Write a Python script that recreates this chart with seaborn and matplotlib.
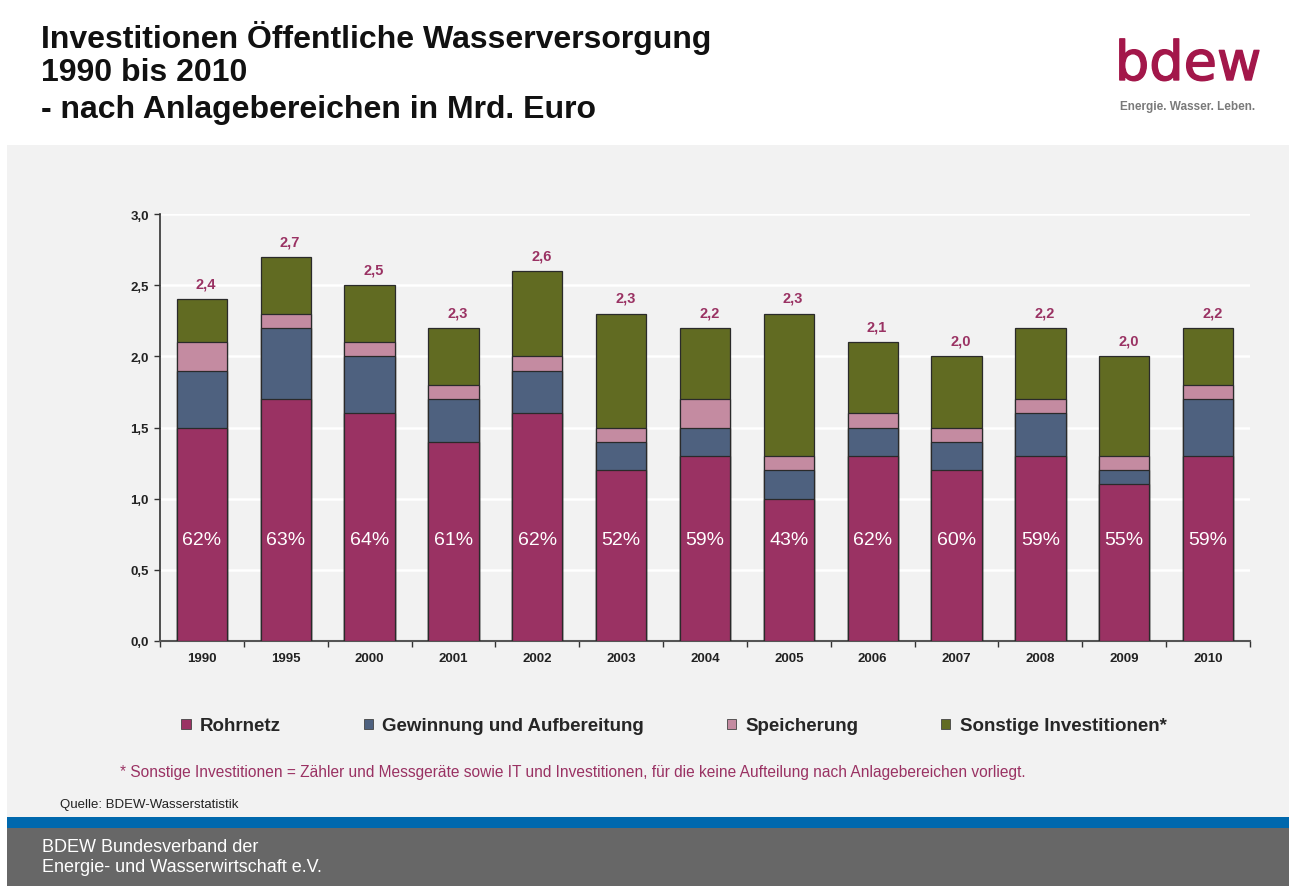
import matplotlib
matplotlib.use("Agg")
import matplotlib.pyplot as plt
import matplotlib.patheffects as pe
from matplotlib.patches import Rectangle, Patch
import seaborn as sns
import numpy as np

# ---------------- data ----------------
years = ["1990", "1995", "2000", "2001", "2002", "2003", "2004",
         "2005", "2006", "2007", "2008", "2009", "2010"]
rohrnetz    = [1.5, 1.7, 1.6, 1.4, 1.6, 1.2, 1.3, 1.0, 1.3, 1.2, 1.3, 1.1, 1.3]
gewinnung   = [0.4, 0.5, 0.4, 0.3, 0.3, 0.2, 0.2, 0.2, 0.2, 0.2, 0.3, 0.1, 0.4]
speicherung = [0.2, 0.1, 0.1, 0.1, 0.1, 0.1, 0.2, 0.1, 0.1, 0.1, 0.1, 0.1, 0.1]
sonstige    = [0.3, 0.4, 0.4, 0.4, 0.6, 0.8, 0.5, 1.0, 0.5, 0.5, 0.5, 0.7, 0.4]
total_labels = [2.4, 2.7, 2.5, 2.3, 2.6, 2.3, 2.2, 2.3, 2.1, 2.0, 2.2, 2.0, 2.2]
share_rohrnetz = [62, 63, 64, 61, 62, 52, 59, 43, 62, 60, 59, 55, 59]
series_names = ["Rohrnetz", "Gewinnung und Aufbereitung", "Speicherung",
                "Sonstige Investitionen*"]
y_ticks = [0.0, 0.5, 1.0, 1.5, 2.0, 2.5, 3.0]

colors = ["#9a3263", "#4e617f", "#c48ba1", "#616b22"]
magenta = "#9a3263"

# ---------------- figure ----------------
sns.set_theme(style="white")
plt.rcParams["font.family"] = ["Liberation Sans", "DejaVu Sans"]

W, H = 1289, 887
fig = plt.figure(figsize=(W / 100, H / 100), dpi=100)
fig.patch.set_facecolor("white")

def fx(px):
    return px / W

def fy(py):
    return 1 - py / H

# background panels
fig.patches.append(Rectangle((fx(7), fy(818)), 1 - fx(7), fy(146) - fy(818),
                             transform=fig.transFigure, facecolor="#f2f2f2",
                             edgecolor="none", zorder=-5))
fig.patches.append(Rectangle((fx(7), fy(829)), 1 - fx(7), fy(818) - fy(829),
                             transform=fig.transFigure, facecolor="#0068ad",
                             edgecolor="none", zorder=-5))
fig.patches.append(Rectangle((fx(7), 0), 1 - fx(7), fy(829),
                             transform=fig.transFigure, facecolor="#676767",
                             edgecolor="none", zorder=-5))

# axes
ax = fig.add_axes([fx(160), fy(642), fx(1250) - fx(160), fy(215) - fy(642)])
ax.set_zorder(5)
ax.set_facecolor("#f2f2f2")

layers = [rohrnetz, gewinnung, speicherung, sonstige]
cum = np.cumsum(np.array(layers), axis=0)

# draw from top layer down (cumulative heights)
for i in range(3, -1, -1):
    sns.barplot(x=years, y=cum[i], order=years, color=colors[i], width=0.6,
                saturation=1, edgecolor="#2a2a2a", linewidth=0.9, ax=ax,
                zorder=3)

ax.set_xlim(-0.5, len(years) - 0.5)
ax.set_ylim(0, 3.0)
ax.set_yticks(y_ticks)
ax.set_yticklabels([f"{v:.1f}".replace(".", ",") for v in y_ticks],
                   fontsize=9.5, fontweight="bold", color="#222222")
ax.set_xticks(range(len(years)))
ax.set_xticklabels(years, fontsize=9.5, fontweight="bold", color="#222222")
ax.set_xlabel("")
ax.set_ylabel("")
ax.tick_params(axis="x", length=0, pad=8)
ax.tick_params(axis="y", length=4, width=1, color="#333333", pad=4,
               direction="out", left=True)
ax.set_xticks(np.arange(-0.5, len(years), 1.0), minor=True)
ax.tick_params(axis="x", which="minor", length=4, width=1, color="#333333",
               direction="out", bottom=True)

ax.yaxis.grid(True, color="white", linewidth=1.8, zorder=0)
ax.set_axisbelow(True)
for side in ["top", "right"]:
    ax.spines[side].set_visible(False)
ax.spines["left"].set_color("#333333")
ax.spines["bottom"].set_color("#555555")
ax.spines["left"].set_linewidth(1.2)
ax.spines["bottom"].set_linewidth(1.5)

# total labels and share labels
tops = cum[3]
for i, (t, lab, sh) in enumerate(zip(tops, total_labels, share_rohrnetz)):
    ax.text(i + 0.05, t + 0.11, f"{lab:.1f}".replace(".", ","), ha="center",
            va="center", fontsize=10.5, fontweight="bold", color=magenta,
            zorder=5)
    ax.text(i, 0.71, f"{sh}%", ha="center", va="center", fontsize=14,
            color="white", zorder=5)

# legend
handles = [Patch(facecolor=c, edgecolor="#444444", linewidth=0.6) for c in colors]
fig.legend(handles, series_names, loc="center", ncol=4,
           bbox_to_anchor=(fx(674), fy(727)), frameon=False,
           prop={"weight": "bold", "size": 13.5}, handlelength=0.5,
           handleheight=0.5, handletextpad=0.5, columnspacing=4.4)

# titles
title_kw = dict(fontsize=23, fontweight="bold", color="#111111", va="center",
                ha="left")
fig.text(fx(41), fy(38), "Investitionen Öffentliche Wasserversorgung", **title_kw)
fig.text(fx(41), fy(73), "1990 bis 2010", **title_kw)
fig.text(fx(41), fy(110), "- nach Anlagebereichen in Mrd. Euro", **title_kw)

# logo
fig.text(fx(1188), fy(66), "bdew", fontsize=39, color="#a3174a",
         family=["DejaVu Sans"], va="center", ha="center",
         path_effects=[pe.withStroke(linewidth=1.0, foreground="#a3174a")])
fig.text(fx(1188), fy(107), "Energie. Wasser. Leben.", fontsize=8.5,
         fontweight="bold", color="#7a7a7a", va="center", ha="center")

# footnote / source / footer
fig.text(fx(120), fy(773),
         "* Sonstige Investitionen = Zähler und Messgeräte sowie IT und Investitionen, "
         "für die keine Aufteilung nach Anlagebereichen vorliegt.",
         fontsize=11.2, color=magenta, va="center", ha="left")
fig.text(fx(60), fy(805), "Quelle: BDEW-Wasserstatistik", fontsize=9.5,
         color="#222222", va="center", ha="left")
fig.text(fx(42), fy(848), "BDEW Bundesverband der", fontsize=13,
         color="white", va="center", ha="left")
fig.text(fx(42), fy(868), "Energie- und Wasserwirtschaft e.V.", fontsize=13,
         color="white", va="center", ha="left")

fig.savefig("out.png", dpi=100)
